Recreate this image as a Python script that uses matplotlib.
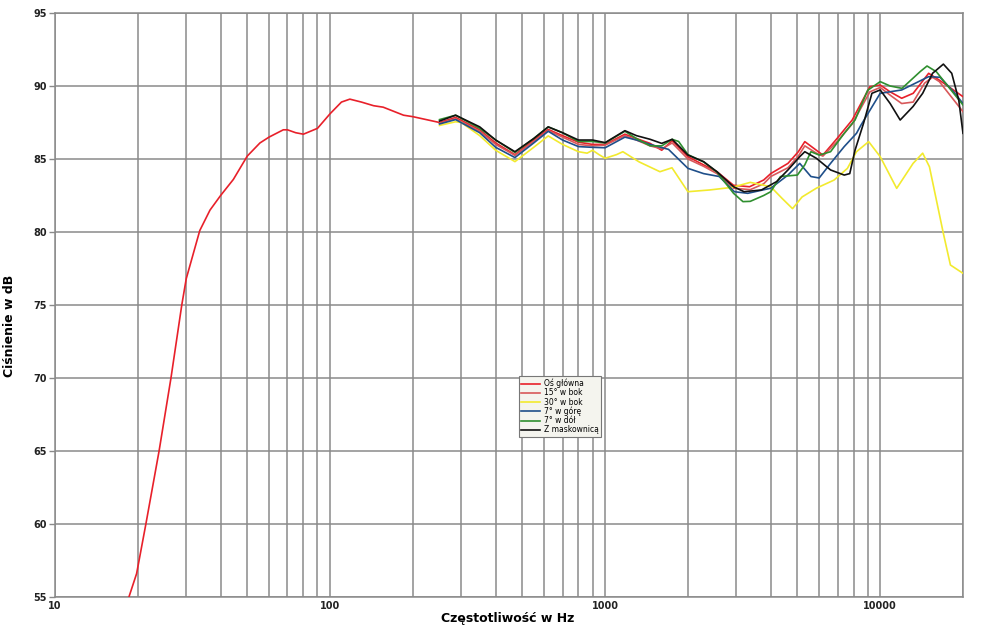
import numpy as np
import matplotlib
matplotlib.use("Agg")
import matplotlib.pyplot as plt
from matplotlib.ticker import FixedLocator, NullFormatter, FixedFormatter

# ===== dane (Hz, dB) =====
f_main = [18.2, 19.8, 21.4, 23.9, 26.4, 28.9, 30, 33.6, 36.6, 40, 44.5, 50, 55.6, 60, 67.6, 70, 75, 80,
          90, 100, 110, 118, 130, 144, 156, 185, 200, 250, 286, 350, 400, 470, 550, 621, 700, 800, 900,
          1000, 1180, 1300, 1457, 1606, 1753, 2000, 2280, 2550, 2930, 3350, 3770, 4000, 4620, 5040, 5320,
          5860, 6190, 6980, 7910, 9170, 10000, 10870, 11970, 13180, 15000, 16410, 20000]
db_main = [54.5, 56.6, 60.0, 65.0, 70.0, 75.0, 76.8, 80.1, 81.5, 82.5, 83.6, 85.2, 86.1, 86.5, 87.0, 87.0,
           86.8, 86.7, 87.1, 88.1, 88.9, 89.1, 88.9, 88.65, 88.55, 88.0, 87.9, 87.5, 87.85, 87.0, 86.1,
           85.3, 86.3, 87.03, 86.6, 86.15, 86.0, 86.0, 86.7, 86.4, 86.07, 85.6, 86.26, 85.16, 84.6, 84.13,
           83.2, 83.1, 83.56, 84.0, 84.7, 85.5, 86.19, 85.6, 85.27, 86.42, 87.67, 89.95, 90.07, 89.6,
           89.16, 89.5, 90.87, 90.4, 89.27]

f_15 = [250, 286, 350, 400, 470, 550, 621, 700, 800, 900, 1000, 1180, 1300, 1457, 1606, 1753, 2000,
        2280, 2550, 2930, 3370, 3770, 4000, 4620, 5040, 5320, 5860, 6190, 6980, 7910, 9170, 10000,
        11000, 11970, 13180, 14500, 15500, 16410, 20000]
db_15 = [87.45, 87.75, 86.9, 86.0, 85.25, 86.2, 86.95, 86.5, 86.0, 85.9, 85.95, 86.6, 86.3, 85.9, 85.7,
         86.1, 85.0, 84.5, 84.0, 83.0, 82.9, 83.3, 83.8, 84.4, 85.2, 85.9, 85.4, 85.2, 86.2, 87.4, 89.6,
         89.9, 89.3, 88.8, 88.9, 90.2, 90.6, 90.3, 88.24]

f_30 = [250, 286, 300, 350, 400, 470, 550, 621, 700, 800, 860, 900, 950, 1000, 1100, 1160, 1330, 1582,
        1750, 2000, 2400, 2900, 3370, 4000, 4400, 4800, 5200, 5860, 6800, 7600, 8200, 9080, 10000,
        11480, 13170, 14270, 15100, 16970, 18000, 20000]
db_30 = [87.3, 87.55, 87.5, 86.6, 85.6, 84.82, 85.8, 86.58, 86.0, 85.5, 85.4, 85.6, 85.3, 85.05, 85.3,
         85.5, 84.8, 84.13, 84.4, 82.76, 82.88, 83.06, 83.4, 83.1, 82.3, 81.6, 82.4, 83.0, 83.56, 84.36,
         85.5, 86.19, 85.16, 82.99, 84.7, 85.4, 84.47, 79.9, 77.74, 77.17]

f_up = [250, 286, 350, 400, 470, 550, 621, 700, 800, 900, 1000, 1180, 1300, 1457, 1700, 2000, 2280,
        2600, 2950, 3300, 4000, 4620, 5100, 5600, 6000, 6600, 7400, 8200, 8500, 10000, 11970, 15000,
        16500, 18500, 20000]
db_up = [87.4, 87.7, 86.8, 85.8, 85.1, 86.1, 86.9, 86.3, 85.85, 85.8, 85.77, 86.5, 86.3, 86.0, 85.66,
         84.36, 84.0, 83.8, 82.76, 82.65, 83.0, 83.9, 84.7, 83.8, 83.7, 84.7, 85.85, 86.76, 87.3, 89.5,
         89.73, 90.64, 90.6, 89.6, 88.8]

f_down = [250, 286, 350, 400, 470, 550, 621, 700, 800, 900, 1000, 1180, 1300, 1457, 1606, 1753, 1850,
          2000, 2280, 2550, 2930, 3170, 3370, 3770, 4000, 4340, 5000, 5320, 5600, 6000, 6600, 7400,
          8100, 9000, 10000, 10870, 12000, 14000, 14800, 16000, 20000]
db_down = [87.7, 88.0, 87.1, 86.3, 85.45, 86.4, 87.2, 86.8, 86.2, 86.2, 86.1, 86.9, 86.4, 85.9, 85.9,
           86.35, 86.2, 85.3, 84.8, 84.1, 82.65, 82.08, 82.1, 82.5, 82.76, 83.8, 83.9, 84.6, 85.5, 85.27,
           85.5, 86.76, 87.67, 89.7, 90.3, 90.0, 89.84, 91.0, 91.37, 90.98, 88.7]

f_grill = [250, 286, 350, 400, 470, 550, 621, 700, 800, 900, 1000, 1180, 1300, 1457, 1606, 1753, 2000,
           2280, 2550, 2930, 3200, 3700, 4200, 4620, 5100, 5320, 5860, 6600, 7400, 7750, 8100, 8700,
           9330, 10000, 10870, 11820, 13170, 14270, 15500, 16970, 18200, 19300, 20000]
db_grill = [87.6, 88.0, 87.2, 86.3, 85.5, 86.4, 87.2, 86.8, 86.3, 86.3, 86.12, 86.94, 86.6, 86.35,
            86.07, 86.35, 85.27, 84.82, 84.13, 83.1, 82.76, 82.88, 83.45, 84.25, 85.16, 85.5, 85.05,
            84.25, 83.9, 84.0, 85.6, 87.45, 89.5, 89.73, 88.8, 87.67, 88.6, 89.5, 90.87, 91.5, 90.87,
            89.04, 86.76]

series = [
    ("Oś główna", f_main, db_main, "#e8202a"),
    ("15° w bok", f_15, db_15, "#d8585a"),
    ("30° w bok", f_30, db_30, "#f2ea2e"),
    ("7° w górę", f_up, db_up, "#1f4f8a"),
    ("7° w dół", f_down, db_down, "#2f8f2f"),
    ("Z maskownicą", f_grill, db_grill, "#111111"),
]

x_major = [10, 100, 1000, 10000]
x_grid = [m * d for d in (10, 100, 1000) for m in range(1, 10)] + [10000, 20000]
y_ticks = [55, 60, 65, 70, 75, 80, 85, 90, 95]

# ===== wykres =====
fig = plt.figure(figsize=(10, 6.38), dpi=100)
ax = fig.add_axes([0.055, 0.0643, 0.908, 0.9153])

grid_col = "#8a8a8a"
for xv in x_grid:
    ax.axvline(xv, color=grid_col, lw=1.1, zorder=1)
for yv in y_ticks:
    ax.axhline(yv, color=grid_col, lw=1.1, zorder=1)

for name, f, db, col in series:
    ax.plot(f, db, color=col, lw=1.2, label=name, zorder=3, solid_joinstyle="round")

ax.set_xscale("log")
ax.set_xlim(10, 20000)
ax.set_ylim(55, 95)
ax.xaxis.set_major_locator(FixedLocator(x_major))
ax.xaxis.set_major_formatter(FixedFormatter([str(v) for v in x_major]))
ax.xaxis.set_minor_locator(FixedLocator([]))
ax.xaxis.set_minor_formatter(NullFormatter())
ax.set_yticks(y_ticks)
ax.tick_params(axis="x", length=0, labelsize=7, pad=3, colors="#222222")
ax.tick_params(axis="y", length=4, width=1, color=grid_col, labelsize=7, pad=2, labelcolor="#222222")
for lab in ax.get_xticklabels() + ax.get_yticklabels():
    lab.set_fontweight("bold")
for s in ax.spines.values():
    s.set_color(grid_col)
    s.set_linewidth(1.1)

fig.text(0.508, 0.030, "Częstotliwość w Hz", ha="center", va="center", fontsize=9, fontweight="bold")
fig.text(0.010, 0.49, "Ciśnienie w dB", ha="center", va="center", rotation=90, fontsize=9,
         fontweight="bold")

leg = ax.legend(loc="upper left", bbox_to_anchor=(0.519, 0.410), bbox_transform=fig.transFigure,
                fontsize=5.5, frameon=True, fancybox=False, handlelength=2.4, handletextpad=0.6,
                borderpad=0.3, labelspacing=0.02, borderaxespad=0)
leg.get_frame().set_facecolor("#f4f4ee")
leg.get_frame().set_edgecolor("#777777")
leg.get_frame().set_linewidth(0.8)
leg.get_frame().set_alpha(1)
leg.set_zorder(5)

fig.savefig("out.png", dpi=100)
